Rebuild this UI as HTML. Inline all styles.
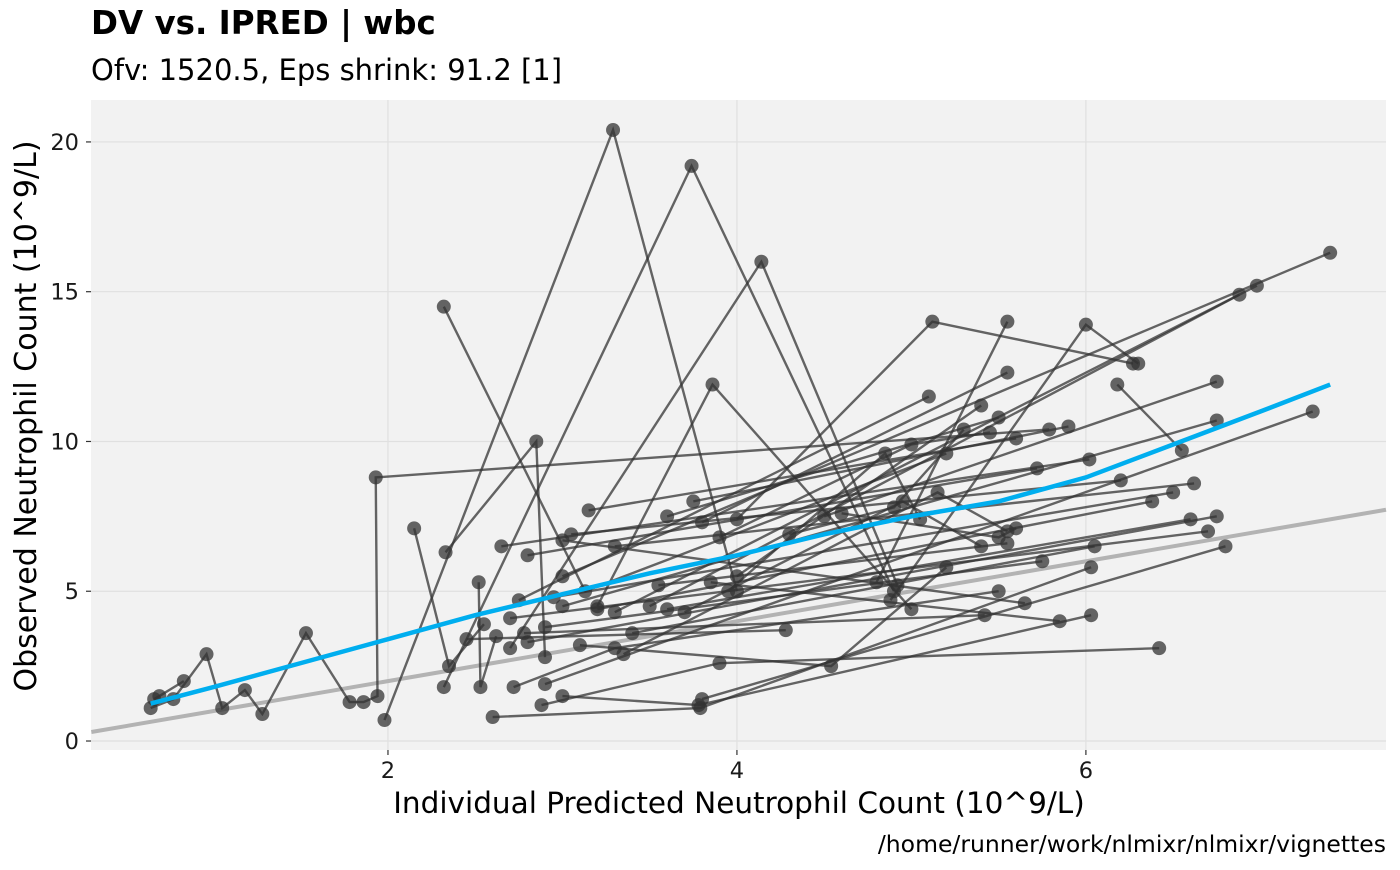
<!DOCTYPE html>
<html><head><meta charset="utf-8"><style>
body{margin:0;background:#fff;font-family:"Liberation Sans","DejaVu Sans",sans-serif;}
svg text{font-family:"DejaVu Sans","Liberation Sans",sans-serif;}
</style></head><body>
<svg id="c" width="1400" height="865">
<text x="91" y="34" font-size="32.5" font-weight="bold" fill="#000">DV vs. IPRED | wbc</text>
<text x="91" y="80" font-size="29" fill="#000">Ofv: 1520.5, Eps shrink: 91.2 [1]</text>
<rect x="91" y="100" width="1295" height="650" fill="#f2f2f2"/>
<g id="grid"></g><g id="marks"></g><g id="axes"></g>
<text x="739" y="813" font-size="29.5" text-anchor="middle" fill="#000">Individual Predicted Neutrophil Count (10^9/L)</text>
<text transform="translate(36,416) rotate(-90)" font-size="30" text-anchor="middle" fill="#000">Observed Neutrophil Count (10^9/L)</text>
<text x="1386" y="852" font-size="23.5" text-anchor="end" fill="#000">/home/runner/work/nlmixr/nlmixr/vignettes</text>
</svg>
<script>
const xTicks=[2,4,6];
const yTicks=[0,5,10,15,20];
const subjects=[
[[0.64,1.1],[0.77,1.4],[0.96,2.9],[1.05,1.1],[1.18,1.7],[1.28,0.9],[1.53,3.6],[1.78,1.3],[1.86,1.3],[1.94,1.5],[1.93,8.8],[5.79,10.4]],
[[0.66,1.4],[0.69,1.5],[0.83,2.0]],
[[1.98,0.7],[3.29,20.4],[4.0,5.0]],
[[2.32,14.5],[3.13,5.0],[5.2,9.6]],
[[2.32,1.8],[3.74,19.2],[4.9,5.0]],
[[2.7,3.1],[4.14,16.0],[4.92,5.2]],
[[2.33,6.3],[2.85,10.0],[2.9,2.8]],
[[3.2,4.5],[3.86,11.9],[5.0,4.4]],
[[4.0,7.4],[5.12,14.0],[6.27,12.6]],
[[4.8,5.3],[5.55,14.0]],
[[4.88,4.7],[6.0,13.9],[6.3,12.6]],
[[3.0,5.5],[7.4,16.3]],
[[3.5,4.5],[6.88,14.9]],
[[3.3,4.3],[6.98,15.2]],
[[2.9,1.9],[7.3,11.0]],
[[4.5,7.5],[6.75,12.0]],
[[3.0,4.5],[6.75,10.7]],
[[6.18,11.9],[6.55,9.7]],
[[2.6,0.8],[3.79,1.1],[6.03,5.8]],
[[2.88,1.2],[3.9,2.6],[6.42,3.1]],
[[3.0,1.5],[3.78,1.2],[6.03,4.2]],
[[2.72,1.8],[3.3,3.1],[5.5,5.0]],
[[2.15,7.1],[2.35,2.5],[2.55,3.9]],
[[2.52,5.3],[2.53,1.8],[2.62,3.5]],
[[3.1,3.2],[4.54,2.5],[5.2,5.8]],
[[2.9,3.8],[5.75,6.0]],
[[3.4,3.6],[6.05,6.5]],
[[3.8,1.4],[6.8,6.5]],
[[2.7,4.1],[6.7,7.0]],
[[3.6,4.4],[6.6,7.4]],
[[2.8,3.3],[6.75,7.5]],
[[3.3,6.5],[6.62,8.6]],
[[2.95,4.8],[6.5,8.3]],
[[3.2,4.4],[6.38,8.0]],
[[3.05,6.9],[6.2,8.7]],
[[2.65,6.5],[6.02,9.4]],
[[2.8,6.2],[5.72,9.1]],
[[3.15,7.7],[5.6,10.1]],
[[3.75,8.0],[5.9,10.5]],
[[3.6,7.5],[5.5,10.8]],
[[4.0,5.5],[5.4,11.2]],
[[2.75,4.7],[5.1,11.5]],
[[3.8,7.3],[5.55,12.3]],
[[3.85,5.3],[5.85,4.0]],
[[3.0,6.7],[5.65,4.6]],
[[2.78,3.6],[5.42,4.2]],
[[2.45,3.4],[4.28,3.7]],
[[3.55,5.2],[5.55,6.6]],
[[3.9,6.8],[5.0,9.9],[5.45,10.3]],
[[4.3,6.9],[4.9,7.8],[5.3,10.4]],
[[4.6,7.6],[5.5,6.8],[5.6,7.1]],
[[3.7,4.3],[4.95,8.0],[5.4,6.5]],
[[3.95,5.0],[4.85,9.6],[5.05,7.4]],
[[3.35,2.9],[5.15,8.3],[5.55,7.0]]
];
const loessX=[0.64,1.0,1.5,2.0,2.5,3.0,3.5,4.0,4.5,5.0,5.5,6.0,6.5,7.0,7.4];
const loessY=[1.25,1.8,2.6,3.4,4.2,4.9,5.6,6.2,6.9,7.5,8.0,8.8,9.9,11.0,11.9];
const identityX=[0.3,7.72];

const X0=91,X1=1386,Y0=750,Y1=100,xd=[0.298,7.72],yd=[-0.3,21.4];
const sx=v=>X0+(v-xd[0])/(xd[1]-xd[0])*(X1-X0);
const sy=v=>Y0-(v-yd[0])/(yd[1]-yd[0])*(Y0-Y1);
const NS='http://www.w3.org/2000/svg';
function mk(t,a,p){const e=document.createElementNS(NS,t);for(const k in a)e.setAttribute(k,a[k]);p.appendChild(e);return e;}
const grid=document.getElementById('grid'),marks=document.getElementById('marks'),axes=document.getElementById('axes');
xTicks.forEach(t=>{const g=mk('line',{x1:sx(t),x2:sx(t),y1:Y1,y2:Y0,stroke:'#e0e0e0','stroke-width':1.2},grid);


const l=mk('text',{x:sx(t),y:Y0+28,'font-size':22.5,'text-anchor':'middle',fill:'#1a1a1a'},axes);l.textContent=t;


mk('line',{x1:sx(t),x2:sx(t),y1:Y0,y2:Y0+5,stroke:'#333','stroke-width':1.2},axes);});
yTicks.forEach(t=>{const g=mk('line',{x1:X0,x2:X1,y1:sy(t),y2:sy(t),stroke:'#e0e0e0','stroke-width':1.2},grid);


const l=mk('text',{x:X0-12,y:sy(t)+8,'font-size':22.5,'text-anchor':'end',fill:'#1a1a1a'},axes);l.textContent=t;


mk('line',{x1:X0-5,x2:X0,y1:sy(t),y2:sy(t),stroke:'#333','stroke-width':1.2},axes);});
const id=mk('line',{x1:sx(identityX[0]),y1:sy(identityX[0]),x2:sx(identityX[1]),y2:sy(identityX[1]),stroke:'#b3b3b3','stroke-width':4},marks);


subjects.forEach(s=>{const pl=mk('polyline',{points:s.map(p=>sx(p[0])+','+sy(p[1])).join(' '),fill:'none',stroke:'#333','stroke-opacity':0.75,'stroke-width':2.4},marks);


s.forEach(p=>{const c=mk('circle',{cx:sx(p[0]),cy:sy(p[1]),r:7,fill:'#333','fill-opacity':0.75},marks);

});});
const lo=mk('polyline',{points:loessX.map((x,i)=>sx(x)+','+sy(loessY[i])).join(' '),fill:'none',stroke:'#00aeef','stroke-width':4.5},marks);


</script>
</body></html>
